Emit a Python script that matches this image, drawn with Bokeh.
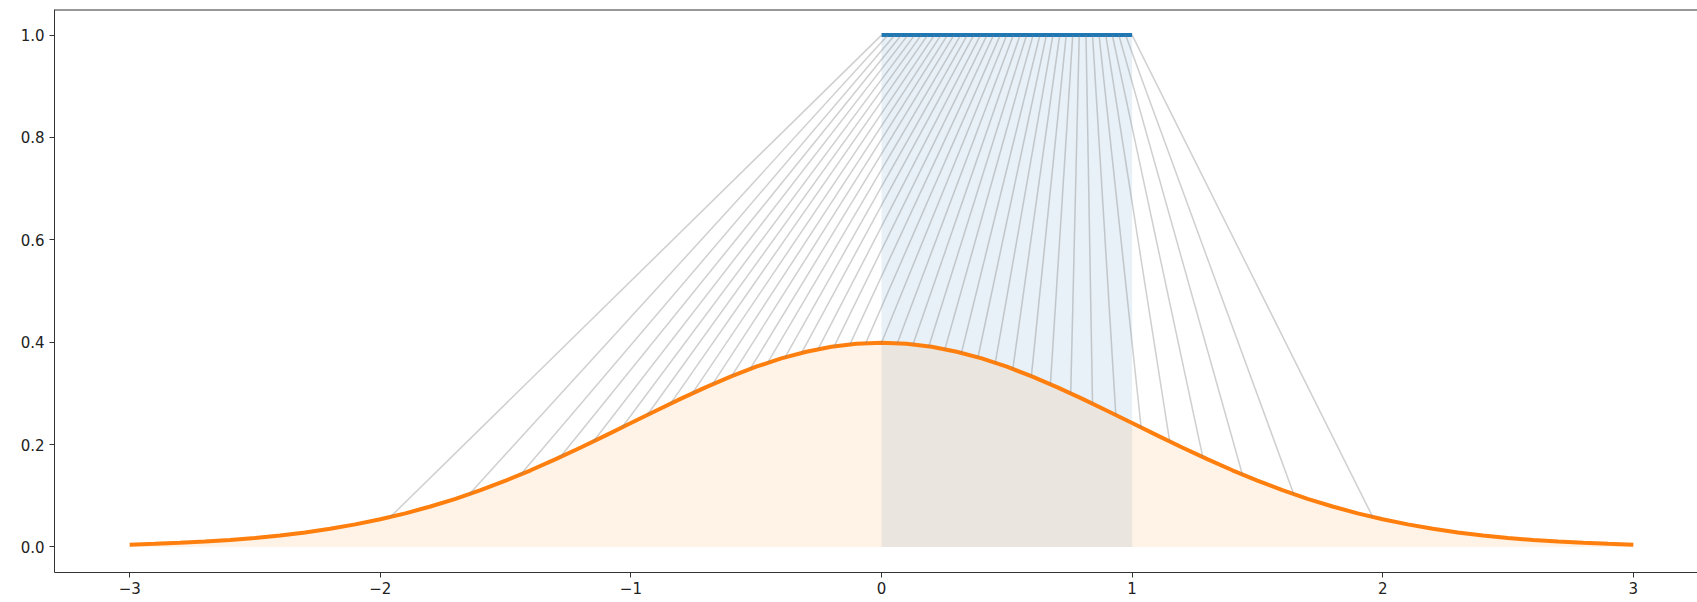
from bokeh.plotting import figure
from bokeh.models import Range1d, FixedTicker, Span
from bokeh.embed import file_html
from bokeh.resources import INLINE

# ---------------- data ----------------
# normal density curve
curve_x = [-3.0, -2.9, -2.8, -2.7, -2.6, -2.5, -2.4, -2.3, -2.2, -2.1,
           -2.0, -1.9, -1.8, -1.7, -1.6, -1.5, -1.4, -1.3, -1.2, -1.1,
           -1.0, -0.9, -0.8, -0.7, -0.6, -0.5, -0.4, -0.3, -0.2, -0.1,
           0.0, 0.1, 0.2, 0.3, 0.4, 0.5, 0.6, 0.7, 0.8, 0.9,
           1.0, 1.1, 1.2, 1.3, 1.4, 1.5, 1.6, 1.7, 1.8, 1.9,
           2.0, 2.1, 2.2, 2.3, 2.4, 2.5, 2.6, 2.7, 2.8, 2.9, 3.0]
curve_y = [0.0044, 0.0060, 0.0079, 0.0104, 0.0136, 0.0175, 0.0224, 0.0283, 0.0355, 0.0440,
           0.0540, 0.0656, 0.0790, 0.0940, 0.1109, 0.1295, 0.1497, 0.1714, 0.1942, 0.2179,
           0.2420, 0.2661, 0.2897, 0.3123, 0.3332, 0.3521, 0.3683, 0.3814, 0.3910, 0.3970,
           0.3989, 0.3970, 0.3910, 0.3814, 0.3683, 0.3521, 0.3332, 0.3123, 0.2897, 0.2661,
           0.2420, 0.2179, 0.1942, 0.1714, 0.1497, 0.1295, 0.1109, 0.0940, 0.0790, 0.0656,
           0.0540, 0.0440, 0.0355, 0.0283, 0.0224, 0.0175, 0.0136, 0.0104, 0.0079, 0.0060, 0.0044]

# uniform segment (top)
uniform_x = [0.0, 1.0]
uniform_y = [1.0, 1.0]
uniform_fill_top = [1.0, 1.0]
uniform_fill_bottom = [0.0, 0.0]

# connector lines: start points on the uniform bar
top_x = [0.000, 0.026, 0.053, 0.079, 0.105, 0.132, 0.158, 0.184, 0.211, 0.237,
         0.263, 0.289, 0.316, 0.342, 0.368, 0.395, 0.421, 0.447, 0.474, 0.500,
         0.526, 0.553, 0.579, 0.605, 0.632, 0.658, 0.684, 0.711, 0.737, 0.763,
         0.789, 0.816, 0.842, 0.868, 0.895, 0.921, 0.947, 0.974, 1.000]
top_y = [1.0] * 39

# connector lines: end points on the density curve
bottom_x = [-1.960, -1.645, -1.440, -1.282, -1.150, -1.036, -0.935, -0.842, -0.755, -0.674,
            -0.598, -0.524, -0.454, -0.385, -0.319, -0.253, -0.189, -0.126, -0.063, 0.000,
            0.063, 0.126, 0.189, 0.253, 0.319, 0.385, 0.454, 0.524, 0.598, 0.674,
            0.755, 0.842, 0.935, 1.036, 1.150, 1.282, 1.440, 1.645, 1.960]
bottom_y = [0.0584, 0.1031, 0.1415, 0.1755, 0.2059, 0.2333, 0.2577, 0.2799, 0.3000, 0.3179,
            0.3336, 0.3478, 0.3599, 0.3705, 0.3792, 0.3864, 0.3919, 0.3958, 0.3981, 0.3989,
            0.3981, 0.3958, 0.3919, 0.3864, 0.3792, 0.3705, 0.3599, 0.3478, 0.3336, 0.3179,
            0.3000, 0.2799, 0.2577, 0.2333, 0.2059, 0.1755, 0.1415, 0.1031, 0.0584]

x_ticks = [-3, -2, -1, 0, 1, 2, 3]
x_tick_labels = ["\u22123", "\u22122", "\u22121", "0", "1", "2", "3"]
y_ticks = [0.0, 0.2, 0.4, 0.6, 0.8, 1.0]
y_tick_labels = ["0.0", "0.2", "0.4", "0.6", "0.8", "1.0"]

# ---------------- figure ----------------
BLUE = "#1f77b4"
ORANGE = "#ff7f0e"
Y_TOP = 1.05

p = figure(width=1697, height=602, output_backend="svg", toolbar_location=None,
           x_range=Range1d(-3.3, 3.256), y_range=Range1d(-0.05, Y_TOP),
           min_border_left=54, min_border_right=0, min_border_top=9, min_border_bottom=30)

p.background_fill_color = "white"
p.border_fill_color = "white"
p.outline_line_color = None
p.xgrid.visible = False
p.ygrid.visible = False

# fills
p.varea(x=uniform_x, y1=uniform_fill_bottom, y2=uniform_fill_top, fill_color=BLUE, fill_alpha=0.1)
p.varea(x=curve_x, y1=[0.0] * len(curve_x), y2=curve_y, fill_color=ORANGE, fill_alpha=0.1)

# curves
p.line(curve_x, curve_y, line_color=ORANGE, line_width=4)
p.line(uniform_x, uniform_y, line_color=BLUE, line_width=4)

# connectors
p.segment(x0=top_x, y0=top_y, x1=bottom_x, y1=bottom_y,
          line_color="gray", line_alpha=0.38, line_width=1.5)

# top spine (right spine lies outside the visible area in the reference)
p.add_layout(Span(location=Y_TOP, dimension="width", line_color="#333333", line_width=2))

# axes
for ax in (p.xaxis[0], p.yaxis[0]):
    ax.axis_line_color = "#333333"
    ax.axis_line_width = 1
    ax.major_tick_line_color = "#333333"
    ax.major_tick_out = 5
    ax.major_tick_in = 0
    ax.minor_tick_line_color = None
    ax.major_label_text_font = "DejaVu Sans"
    ax.major_label_text_font_size = "15px"
    ax.major_label_text_color = "#222222"

p.xaxis[0].ticker = FixedTicker(ticks=x_ticks)
p.xaxis[0].major_label_overrides = {t: l for t, l in zip(x_ticks, x_tick_labels)}
p.xaxis[0].major_label_standoff = 4
p.yaxis[0].ticker = FixedTicker(ticks=y_ticks)
p.yaxis[0].major_label_overrides = {t: l for t, l in zip(y_ticks, y_tick_labels)}
p.yaxis[0].major_label_standoff = 5

open("out.html", "w").write(file_html(p, INLINE))
